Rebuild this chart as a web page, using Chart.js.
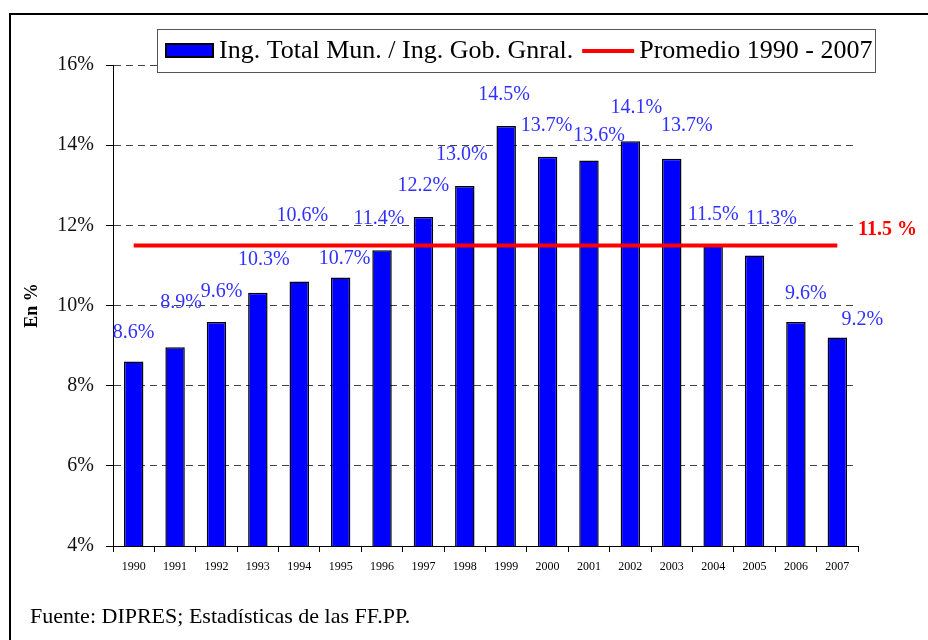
<!DOCTYPE html>
<html>
<head>
<meta charset="utf-8">
<script src="https://cdn.jsdelivr.net/npm/chart.js@4/dist/chart.umd.min.js"></script>
<style>
  html, body { margin: 0; padding: 0; background: #fff; }
  body { width: 928px; height: 640px; position: relative; overflow: hidden; }
  #frame { position: absolute; left: 9px; top: 13px; width: 1000px; height: 700px; border-left: 2px solid #000; border-top: 2px solid #000; }
  #chart { position: absolute; left: 0; top: 0; }
</style>
</head>
<body>
<div id="frame"></div>
<canvas id="chart" width="928" height="640"></canvas>

<script>
// --- Data ---
const years = ['1990', '1991', '1992', '1993', '1994', '1995', '1996', '1997', '1998',
               '1999', '2000', '2001', '2002', '2003', '2004', '2005', '2006', '2007'];

// Ing. Total Mun. / Ing. Gob. Gnral. (%)
const ratio = [8.6, 8.96, 9.59, 10.32, 10.6, 10.7, 11.38, 12.21, 12.98,
               14.48, 13.71, 13.62, 14.1, 13.66, 11.5, 11.25, 9.59, 9.2];

const ratioLabels = ['8.6%', '8.9%', '9.6%', '10.3%', '10.6%', '10.7%', '11.4%', '12.2%', '13.0%',
                     '14.5%', '13.7%', '13.6%', '14.1%', '13.7%', '11.5%', '11.3%', '9.6%', '9.2%'];

// Promedio 1990 - 2007
const average = [11.5, 11.5, 11.5, 11.5, 11.5, 11.5, 11.5, 11.5, 11.5,
                 11.5, 11.5, 11.5, 11.5, 11.5, 11.5, 11.5, 11.5, 11.5];
const averageLabel = '11.5 %';

const yTicks = [4, 6, 8, 10, 12, 14, 16];

const sourceNote = 'Fuente: DIPRES; Estadísticas de las FF.PP.';

// hand-placed label nudges (px) as in the original sheet
const labelNudge = [[0, 2], [6, -13], [5, 1], [6, -2], [3, -35], [4, 12], [-3, 0], [0, 0], [-3, 0],
                    [-2, 0], [-1, 0], [10, 6], [6, -2], [15, -2], [0, 0], [17, -6], [10, 3], [25, 13]];

const SERIF = "'Liberation Serif', 'Times New Roman', serif";

// --- Value labels + average tag ---
const valueLabels = {
  id: 'valueLabels',
  afterDatasetsDraw(chart) {
    const { ctx, chartArea, scales } = chart;
    const bars = chart.getDatasetMeta(1).data;
    ctx.save();
    ctx.font = `20px ${SERIF}`;
    ctx.fillStyle = '#3030ff';
    ctx.textAlign = 'center';
    ctx.textBaseline = 'middle';
    bars.forEach((bar, i) => {
      const [dx, dy] = labelNudge[i];
      ctx.fillText(ratioLabels[i], bar.x + dx, bar.y - 31 + dy);
    });
    // red tag at the right end of the average line
    ctx.font = `bold 20px ${SERIF}`;
    ctx.fillStyle = '#ff0000';
    ctx.textAlign = 'left';
    ctx.fillText(averageLabel, chartArea.right, scales.y.getPixelForValue(average[average.length - 1]) - 16);
    ctx.restore();
  },
};

// --- Boxed legend over the plot + source note ---
const boxedLegend = {
  id: 'boxedLegend',
  afterDraw(chart) {
    const { ctx } = chart;
    const [lineDs, barDs] = chart.data.datasets;
    ctx.save();
    ctx.fillStyle = '#fff';
    ctx.fillRect(157, 29, 719, 44);
    ctx.strokeStyle = '#555';
    ctx.lineWidth = 1;
    ctx.strokeRect(157.5, 29.5, 718, 43);

    ctx.font = `26px ${SERIF}`;
    ctx.textBaseline = 'middle';
    ctx.textAlign = 'left';

    // bar item
    ctx.fillStyle = barDs.backgroundColor;
    ctx.fillRect(166, 44, 47, 13);
    ctx.strokeStyle = '#000';
    ctx.lineWidth = 2;
    ctx.strokeRect(166, 44, 47, 13);
    ctx.fillStyle = '#000';
    ctx.fillText(barDs.label, 219, 51);

    // line item
    let x = 219 + ctx.measureText(barDs.label).width + 9;
    ctx.strokeStyle = lineDs.borderColor;
    ctx.lineWidth = 4;
    ctx.beginPath();
    ctx.moveTo(x, 51);
    ctx.lineTo(x + 52, 51);
    ctx.stroke();
    ctx.fillText(lineDs.label, x + 57, 51);

    // source
    ctx.font = `22px ${SERIF}`;
    ctx.fillText(sourceNote, 30, 617);
    ctx.restore();
  },
};

const chart = new Chart(document.getElementById('chart'), {
  data: {
    labels: years,
    datasets: [
      {
        type: 'line',
        label: 'Promedio 1990 - 2007',
        data: average,
        borderColor: '#ff0000',
        backgroundColor: '#ff0000',
        borderWidth: 4,
        pointRadius: 0,
        order: 0,
      },
      {
        type: 'bar',
        label: 'Ing. Total Mun. / Ing. Gob. Gnral.',
        data: ratio,
        backgroundColor: '#0000ff',
        borderColor: '#000',
        borderWidth: 1.5,
        categoryPercentage: 1,
        barPercentage: 0.47,
        order: 1,
      },
    ],
  },
  options: {
    responsive: false,
    animation: false,
    layout: { padding: { left: 0, top: 65, right: 70, bottom: 64 } },
    plugins: { legend: { display: false }, tooltip: { enabled: false } },
    scales: {
      x: {
        grid: { offset: true, drawOnChartArea: false, drawTicks: true, tickLength: 6, color: '#000' },
        border: { color: '#000', width: 1 },
        ticks: { color: '#000', font: { family: SERIF, size: 12 }, padding: 8, maxRotation: 0, autoSkip: false },
        afterFit: s => { s.height = 30; },
      },
      y: {
        min: 4,
        max: 16,
        afterBuildTicks: s => { s.ticks = yTicks.map(v => ({ value: v })); },
        grid: { color: '#444', lineWidth: 1, tickLength: 7, tickColor: '#000' },
        border: { color: '#000', width: 1, dash: [7, 5] },
        ticks: { color: '#111', font: { family: SERIF, size: 20 }, padding: 12, callback: v => v + '%' },
        title: { display: true, text: 'En %', color: '#000', font: { family: SERIF, size: 18, weight: 'bold' }, padding: { top: 22, bottom: 0 } },
        afterFit: s => { s.width = 113; },
      },
    },
  },
  plugins: [valueLabels, boxedLegend],
});
</script>
</body>
</html>
